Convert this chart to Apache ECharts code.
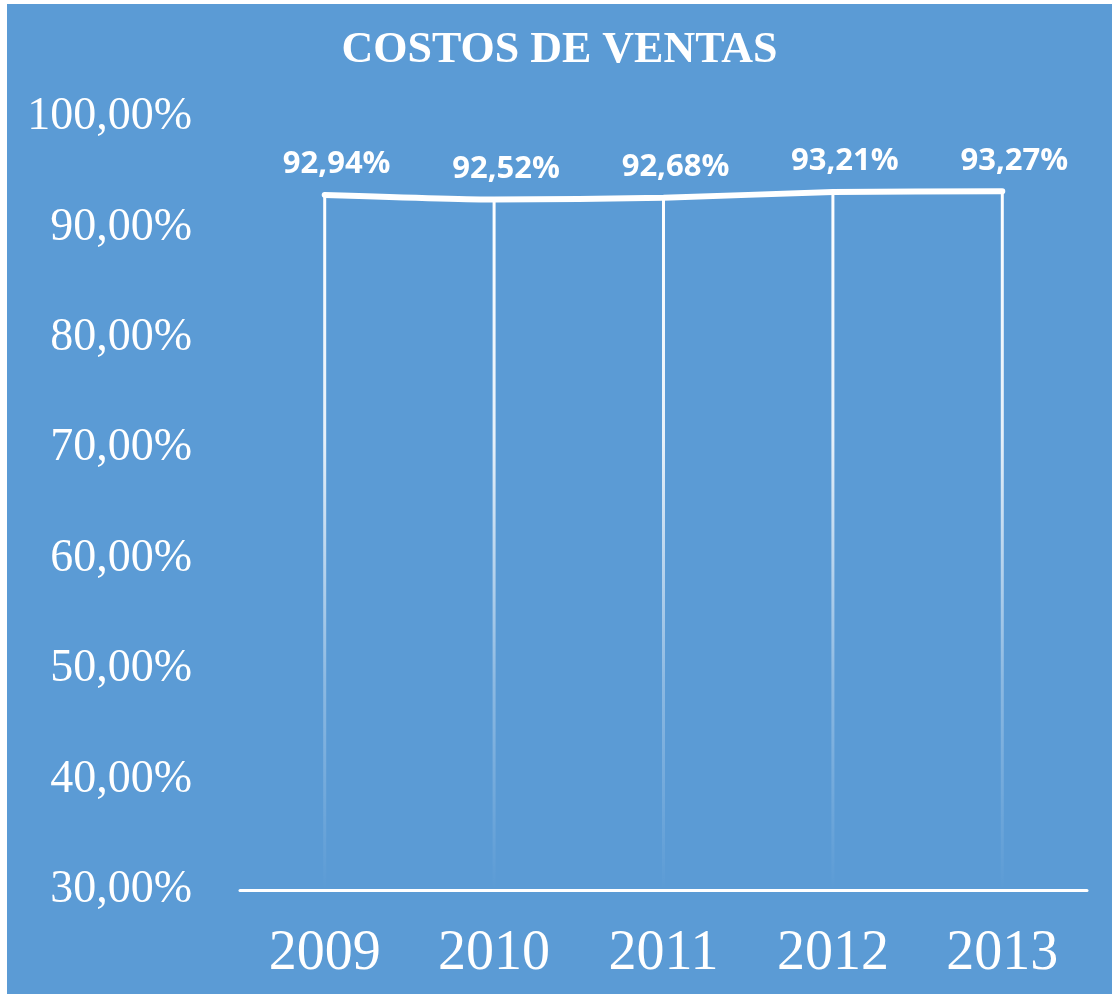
<!DOCTYPE html>
<html>
<head>
<meta charset="utf-8">
<script src="https://cdn.jsdelivr.net/npm/echarts@6/dist/echarts.min.js"></script>
<style>
  html, body { margin: 0; padding: 0; background: #ffffff; }
  #main { position: absolute; left: 7px; top: 4px; width: 1105px; height: 990px; }
</style>
</head>
<body>
<div id="main"></div>
<script>
// datos del gráfico
const years = ['2009', '2010', '2011', '2012', '2013'];
const costos = [92.94, 92.52, 92.68, 93.21, 93.27];
const chartTitle = 'COSTOS DE VENTAS';

const pct = v => v.toFixed(2).replace('.', ',') + '%';

const chartDom = document.getElementById('main');
const myChart = echarts.init(chartDom);

const option = {
  backgroundColor: '#5B9BD5',
  animation: false,
  title: {
    text: chartTitle,
    left: 'center',
    top: 20,
    textStyle: {
      color: '#ffffff',
      fontFamily: 'Liberation Serif',
      fontWeight: 'bold',
      fontSize: 44
    }
  },
  grid: { left: 233, right: 25, top: 113, bottom: 104 },
  xAxis: {
    type: 'category',
    data: years,
    axisLine: { lineStyle: { color: '#ffffff', width: 3 } },
    axisTick: { show: false },
    axisLabel: {
      color: '#ffffff',
      fontFamily: 'Liberation Serif',
      fontSize: 56,
      margin: 36
    }
  },
  yAxis: {
    type: 'value',
    min: 30,
    max: 100,
    interval: 10,
    splitLine: { show: false },
    axisLine: { show: false },
    axisTick: { show: false },
    axisLabel: {
      color: '#ffffff',
      fontFamily: 'Liberation Serif',
      fontSize: 46,
      margin: 48,
      formatter: pct
    }
  },
  series: [
    {
      // líneas de caída
      type: 'bar',
      data: costos,
      barWidth: 3,
      silent: true,
      itemStyle: {
        color: new echarts.graphic.LinearGradient(0, 0, 0, 1, [
          { offset: 0, color: 'rgba(255,255,255,1)' },
          { offset: 0.35, color: 'rgba(255,255,255,0.85)' },
          { offset: 0.7, color: 'rgba(255,255,255,0.3)' },
          { offset: 1, color: 'rgba(255,255,255,0)' }
        ])
      }
    },
    {
      type: 'line',
      data: costos,
      symbol: 'circle',
      symbolSize: 2,
      showSymbol: true,
      itemStyle: { color: '#ffffff' },
      smooth: 0.15,
      lineStyle: { color: '#ffffff', width: 6, cap: 'round' },
      label: {
        show: true,
        position: 'top',
        distance: 14,
        offset: [12, 0],
        color: '#ffffff',
        fontFamily: 'Open Sans',
        fontWeight: 'bold',
        fontSize: 31,
        formatter: p => pct(p.value)
      }
    }
  ]
};

option && myChart.setOption(option);
</script>
</body>
</html>
